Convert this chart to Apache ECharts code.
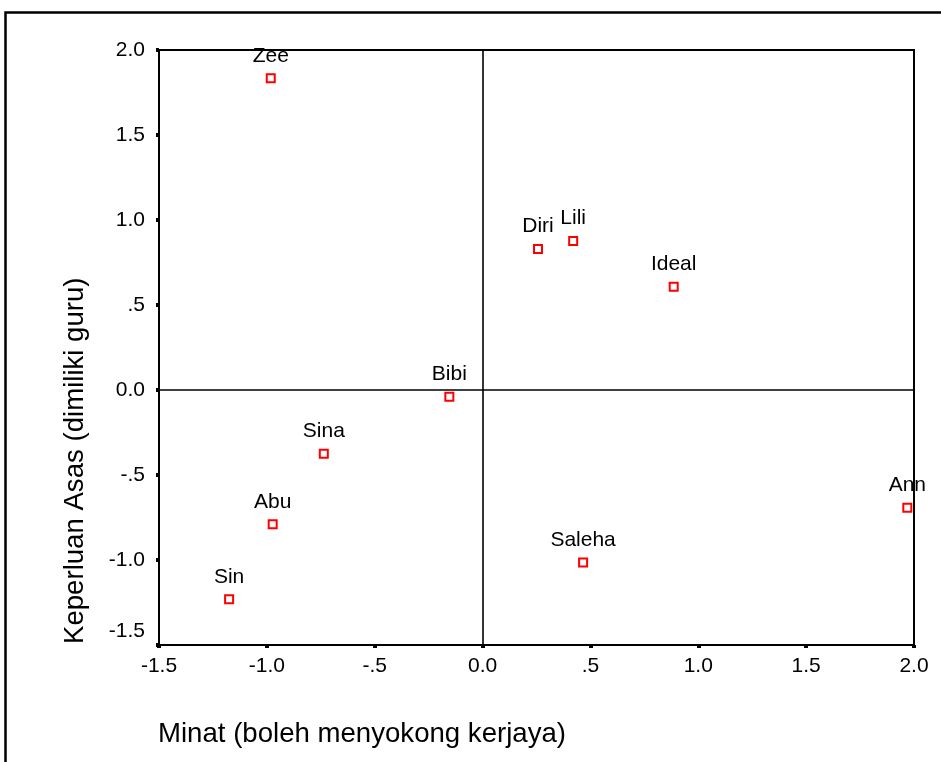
<!DOCTYPE html>
<html>
<head>
<meta charset="utf-8">
<script src="https://cdn.jsdelivr.net/npm/echarts@6/dist/echarts.min.js"></script>
<style>
  html, body { margin: 0; padding: 0; background: #fff; }
  #chart { width: 941px; height: 762px; }
</style>
</head>
<body>
<div id="chart"></div>
<script>
// ---- data ----
var pointNames = ['Zee', 'Diri', 'Lili', 'Ideal', 'Bibi', 'Sina', 'Abu', 'Sin', 'Saleha', 'Ann'];
var minatValues = [-0.982, 0.257, 0.420, 0.886, -0.154, -0.736, -0.973, -1.175, 0.466, 1.969];
var keperluanValues = [1.834, 0.829, 0.876, 0.608, -0.039, -0.375, -0.790, -1.231, -1.014, -0.692];
var xTickLabels = {'-1.5': '-1.5', '-1': '-1.0', '-0.5': '-.5', '0': '0.0', '0.5': '.5', '1': '1.0', '1.5': '1.5', '2': '2.0'};
var yTickLabels = {'-1.5': '-1.5', '-1': '-1.0', '-0.5': '-.5', '0': '0.0', '0.5': '.5', '1': '1.0', '1.5': '1.5', '2': '2.0'};
var xTitle = 'Minat (boleh menyokong kerjaya)';
var yTitle = 'Keperluan Asas (dimiliki guru)';

var FONT = '"Liberation Sans", Arial, sans-serif';
var seriesData = pointNames.map(function (n, i) {
  return { name: n, value: [minatValues[i], keperluanValues[i]] };
});

var chart = echarts.init(document.getElementById('chart'), null, { renderer: 'canvas' });
chart.setOption({
  backgroundColor: '#ffffff',
  animation: false,
  grid: {
    left: 159, right: 27, top: 50, bottom: 117,
    show: true, borderColor: '#000', borderWidth: 2, backgroundColor: 'transparent'
  },
  xAxis: {
    type: 'value', min: -1.5, max: 2, interval: 0.5,
    axisLine: { show: true, onZero: false, lineStyle: { color: '#000', width: 2 } },
    axisTick: { show: true, length: 3, lineStyle: { color: '#000', width: 4 } },
    splitLine: { show: false },
    axisLabel: {
      margin: 11, color: '#000', fontFamily: FONT, fontSize: 21,
      formatter: function (v) { return xTickLabels[String(v)] || String(v); }
    }
  },
  yAxis: {
    type: 'value', min: -1.5, max: 2, interval: 0.5,
    axisLine: { show: true, onZero: false, lineStyle: { color: '#000', width: 2 } },
    axisTick: { show: true, length: 3, lineStyle: { color: '#000', width: 4 } },
    splitLine: { show: false },
    axisLabel: {
      margin: 14, color: '#000', fontFamily: FONT, fontSize: 21,
      formatter: function (v) {
        var t = yTickLabels[String(v)] || String(v);
        return v === -1.5 ? '{low|' + t + '}' : t;
      },
      rich: { low: { fontFamily: FONT, fontSize: 21, color: '#000', padding: [0, 0, 28, 0] } }
    }
  },
  series: [{
    type: 'scatter',
    data: seriesData,
    symbol: 'rect',
    symbolSize: 8,
    itemStyle: { color: '#ffffff', borderColor: '#ff0000', borderWidth: 2, opacity: 1 },
    label: {
      show: true, position: 'top', distance: 7,
      formatter: '{b}', color: '#000000', fontFamily: FONT, fontSize: 21, opacity: 1
    },
    markLine: {
      silent: true, symbol: ['none', 'none'],
      label: { show: false },
      lineStyle: { color: '#000', width: 1.6, type: 'solid', opacity: 1 },
      emphasis: { disabled: true },
      data: [{ xAxis: 0 }, { yAxis: 0 }]
    },
    z: 3
  }],
  graphic: [
    {
      type: 'polyline', silent: true,
      shape: { points: [[5.5, 770], [5.5, 12.5], [950, 12.5]] },
      style: { stroke: '#000', lineWidth: 2.5, fill: null }
    },
    {
      type: 'text', silent: true, x: 158, y: 734,
      style: { text: xTitle, fill: '#000', font: '27.6px "Liberation Sans", Arial, sans-serif', textAlign: 'left', textVerticalAlign: 'middle' }
    },
    {
      type: 'text', silent: true, x: 75, y: 644, rotation: Math.PI / 2,
      style: { text: yTitle, fill: '#000', font: '27.6px "Liberation Sans", Arial, sans-serif', textAlign: 'left', textVerticalAlign: 'middle' }
    }
  ]
});
</script>
</body>
</html>
